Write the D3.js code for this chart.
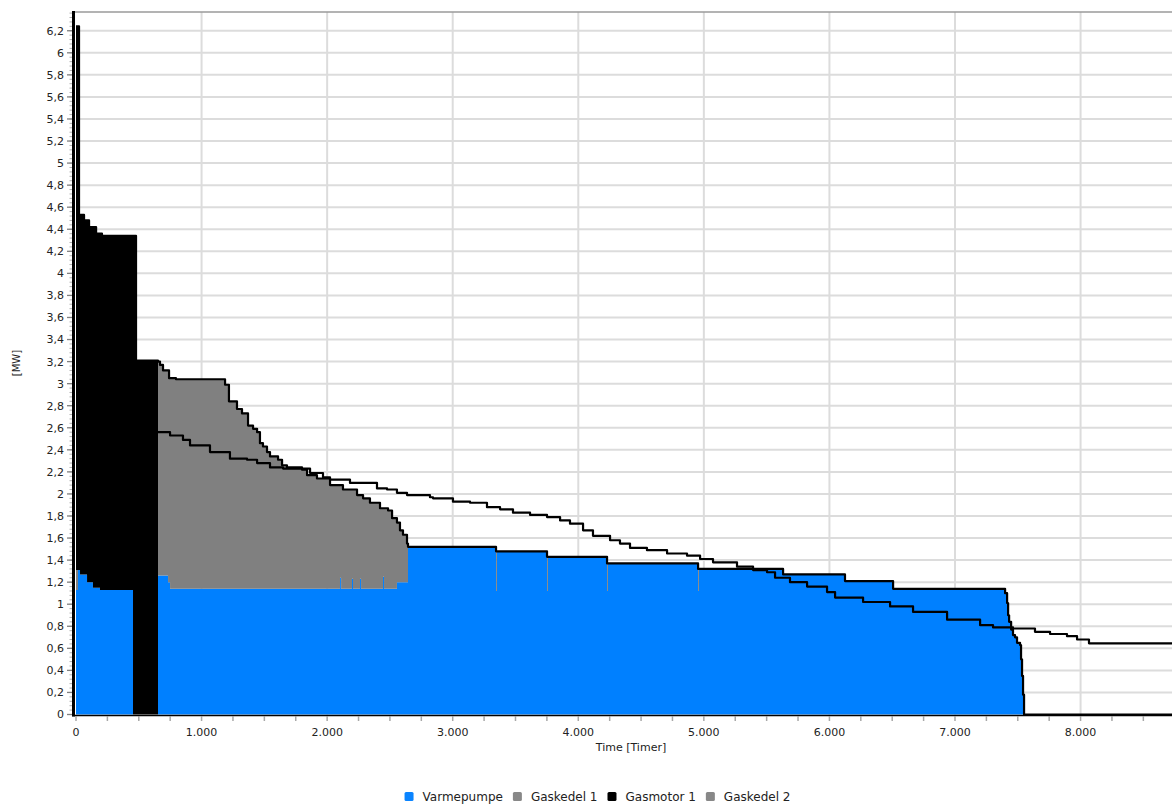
<!DOCTYPE html>
<html>
<head>
<meta charset="utf-8">
<script src="https://cdn.jsdelivr.net/npm/d3@7"></script>
<style>
  html, body { margin: 0; padding: 0; background: #fff; }
  svg { display: block; font-family: "DejaVu Sans", Verdana, sans-serif; }
</style>
</head>
<body>
<svg id="chart" width="1172" height="804"></svg>
<script>
// Sorted hours of the year (step breakpoints) and production per unit [MW]
const timer = [
  0, 16, 24, 32, 64, 88, 104, 135, 160, 191, 207, 454, 478,
  653, 669, 693, 733, 741, 749, 796, 1187, 1218, 1282, 1322, 1370, 1410, 1442,
  1465, 1489, 1521, 1545, 1609, 1641, 1680, 1800, 1840, 1919, 2023, 2103, 2111,
  2126, 2198, 2206, 2238, 2262, 2270, 2286, 2341, 2421, 2445, 2453, 2485, 2517,
  2556, 2580, 2604, 2636, 2644, 3345, 3352, 3751, 3758, 4229, 4236, 4954, 4961,
  5631, 6124, 6507, 7383, 7399, 7415, 7423, 7431, 7447, 7462, 7478, 7494, 7518,
  7526, 7534, 7542, 7550, 8760
];
const varmepumpe = [
  1.13, 1.31, 1.31, 1.27, 1.27, 1.20, 1.20, 1.15, 1.15, 1.13, 1.13, 0, 0,
  1.26, 1.26, 1.26, 1.20, 1.20, 1.14, 1.14, 1.14, 1.14, 1.14, 1.14, 1.14, 1.14, 1.14,
  1.14, 1.14, 1.14, 1.14, 1.14, 1.14, 1.14, 1.14, 1.14, 1.14, 1.14, 1.24, 1.14,
  1.14, 1.23, 1.14, 1.14, 1.23, 1.14, 1.14, 1.14, 1.14, 1.25, 1.14, 1.14, 1.14,
  1.20, 1.20, 1.20, 1.20, 1.52, 1.12, 1.48, 1.12, 1.43, 1.12, 1.37, 1.12, 1.32,
  1.27, 1.21, 1.14, 1.14, 1.10, 1.01, 0.90, 0.84, 0.77, 0.72, 0.70, 0.65, 0.63,
  0.50, 0.35, 0.18, 0, 0
];
const gaskedel1 = [
  0.18, 0, 0, 0, 0, 0, 0, 0, 0, 0, 0, 0, 0,
  1.94, 1.91, 1.86, 1.92, 1.85, 1.91, 1.90, 1.85, 1.70, 1.63, 1.59, 1.48, 1.45, 1.42,
  1.32, 1.29, 1.24, 1.20, 1.17, 1.12, 1.10, 1.08, 1.03, 1.00, 0.94, 0.84, 0.94,
  0.90, 0.81, 0.90, 0.85, 0.76, 0.85, 0.82, 0.78, 0.73, 0.62, 0.73, 0.71, 0.64,
  0.54, 0.47, 0.43, 0.35, 0, 0.36, 0, 0.31, 0, 0.25, 0, 0.20, 0,
  0, 0, 0, 0, 0, 0, 0, 0, 0, 0, 0, 0, 0,
  0, 0, 0, 0, 0
];
const gasmotor1 = [
  4.93, 4.93, 3.22, 3.26, 3.21, 3.28, 3.22, 3.27, 3.21, 3.23, 3.21, 4.34, 3.21,
  0, 0, 0, 0, 0, 0, 0, 0, 0, 0, 0, 0, 0, 0,
  0, 0, 0, 0, 0, 0, 0, 0, 0, 0, 0, 0, 0,
  0, 0, 0, 0, 0, 0, 0, 0, 0, 0, 0, 0, 0,
  0, 0, 0, 0, 0, 0, 0, 0, 0, 0, 0, 0, 0,
  0, 0, 0, 0, 0, 0, 0, 0, 0, 0, 0, 0, 0,
  0, 0, 0, 0, 0
];
const gaskedel2 = timer.map(() => 0);

// Second duration curve drawn as a plain line
const kurveTimer = [
  653, 749, 852, 908, 1067, 1226, 1362, 1442, 1545, 1649, 1864, 1967, 2023, 2182,
  2397, 2477, 2556, 2636, 2819, 2843, 3002, 3138, 3273, 3377, 3480, 3616, 3751,
  3855, 3934, 4038, 4117, 4253, 4332, 4412, 4547, 4707, 4866, 4970, 5073, 5264,
  5392, 5503, 5567, 5686, 5822, 5981, 6045, 6268, 6483, 6666, 6937, 7200, 7303,
  7462, 7637, 7757, 7892, 7972, 8067, 8760
];
const kurveMW = [
  2.56, 2.53, 2.49, 2.44, 2.38, 2.32, 2.31, 2.28, 2.24, 2.23, 2.19, 2.15, 2.13, 2.10,
  2.05, 2.04, 2.01, 1.99, 1.97, 1.96, 1.93, 1.92, 1.88, 1.86, 1.83, 1.81, 1.79,
  1.76, 1.73, 1.67, 1.62, 1.58, 1.55, 1.51, 1.49, 1.46, 1.44, 1.41, 1.38, 1.34,
  1.31, 1.29, 1.24, 1.20, 1.16, 1.11, 1.06, 1.02, 0.98, 0.93, 0.86, 0.81, 0.79,
  0.78, 0.75, 0.73, 0.71, 0.68, 0.645, 0.645
];

const serier = ["Varmepumpe", "Gaskedel 1", "Gasmotor 1", "Gaskedel 2"];
const farver = ["#0080ff", "#808080", "#000000", "#808080"];
const legendFarver = ["#0a84ff", "#888888", "#000000", "#888888"];
const xTicks = [0, 1000, 2000, 3000, 4000, 5000, 6000, 7000, 8000];

// ---------------------------------------------------------------------------
const dk = d3.formatLocale({ decimal: ",", thousands: ".", grouping: [3], currency: ["", " kr"] });
const fmtX = dk.format(",d");
const fmtY = v => dk.format("~g")(+v.toFixed(1));

const svg = d3.select("#chart");
const plotLeft = 76, plotTop = 12, plotBottom = 714.5;

const x = d3.scaleLinear().domain([0, 8760]).range([plotLeft, plotLeft + 1100]);
const y = d3.scaleLinear().domain([0, 6.37]).range([plotBottom, plotTop]);

const rows = timer.map((t, i) => ({
  timer: t,
  "Varmepumpe": varmepumpe[i],
  "Gaskedel 1": gaskedel1[i],
  "Gasmotor 1": gasmotor1[i],
  "Gaskedel 2": gaskedel2[i]
}));

// grid
const yGrid = d3.range(1, 32).map(i => +(i * 0.2).toFixed(1));
svg.append("g").selectAll("line").data(yGrid).join("line")
  .attr("x1", plotLeft).attr("x2", 1172)
  .attr("y1", d => y(d)).attr("y2", d => y(d))
  .attr("stroke", "#dcdcdc").attr("stroke-width", 2);
svg.append("g").selectAll("line").data(xTicks.filter(d => d > 0)).join("line")
  .attr("x1", d => x(d)).attr("x2", d => x(d))
  .attr("y1", plotTop).attr("y2", plotBottom)
  .attr("stroke", "#dcdcdc").attr("stroke-width", 2);

// stacked areas
const stacked = d3.stack().keys(serier)(rows);
const area = d3.area()
  .x(d => x(d.data.timer))
  .y0(d => y(d[0]))
  .y1(d => y(d[1]))
  .curve(d3.curveStepAfter);
svg.append("g").selectAll("path").data(stacked).join("path")
  .attr("d", area)
  .attr("fill", (d, i) => farver[i]);

// outline of the stacked total
const total = d3.line()
  .x(d => x(d.timer))
  .y(d => y(serier.reduce((s, k) => s + d[k], 0)))
  .curve(d3.curveStepAfter);
svg.append("path").datum(rows)
  .attr("d", total)
  .attr("fill", "none").attr("stroke", "#000").attr("stroke-width", 2.2)
  .attr("stroke-linejoin", "round");

// second curve
const kurve = d3.line()
  .x((d, i) => x(kurveTimer[i]))
  .y(d => y(d))
  .curve(d3.curveStepAfter);
svg.append("path").datum(kurveMW)
  .attr("d", kurve)
  .attr("fill", "none").attr("stroke", "#000").attr("stroke-width", 2.2)
  .attr("stroke-linejoin", "round");

// frame
svg.append("line").attr("x1", 73).attr("x2", 1172).attr("y1", plotTop).attr("y2", plotTop)
  .attr("stroke", "#9a9a9a").attr("stroke-width", 1.5);

// y axis
const yMinor = d3.range(0, 160).map(i => +(i * 0.04).toFixed(2)).filter(v => v <= 6.36);
svg.append("g").selectAll("line").data(yMinor).join("line")
  .attr("x1", 69.5).attr("x2", 72)
  .attr("y1", d => y(d)).attr("y2", d => y(d))
  .attr("stroke", "#b0b0b0").attr("stroke-width", 1);
const yMajor = d3.range(0, 32).map(i => +(i * 0.2).toFixed(1));
svg.append("g").selectAll("line").data(yMajor).join("line")
  .attr("x1", 67).attr("x2", 72)
  .attr("y1", d => y(d)).attr("y2", d => y(d))
  .attr("stroke", "#808080").attr("stroke-width", 1.3);
svg.append("g").selectAll("text").data(yMajor).join("text")
  .attr("x", 64).attr("y", d => y(d)).attr("dy", "0.36em")
  .attr("text-anchor", "end")
  .attr("font-size", 11).attr("fill", "#222")
  .text(fmtY);
svg.append("line").attr("x1", 73.5).attr("x2", 73.5).attr("y1", plotTop - 1).attr("y2", 716.5)
  .attr("stroke", "#000").attr("stroke-width", 3);

// x axis
const xMinor = d3.range(0, 8760, 250);
svg.append("g").selectAll("line").data(xMinor).join("line")
  .attr("x1", d => x(d)).attr("x2", d => x(d))
  .attr("y1", 716.5).attr("y2", 721)
  .attr("stroke", "#a8a8a8").attr("stroke-width", 1.5);
svg.append("line").attr("x1", 72).attr("x2", 1172).attr("y1", 715.5).attr("y2", 715.5)
  .attr("stroke", "#000").attr("stroke-width", 1.6);
svg.append("g").selectAll("text").data(xTicks).join("text")
  .attr("x", d => x(d)).attr("y", 736)
  .attr("text-anchor", "middle")
  .attr("font-size", 11).attr("fill", "#222")
  .text(fmtX);

// axis titles
svg.append("text").attr("x", 631).attr("y", 751)
  .attr("text-anchor", "middle").attr("font-size", 11).attr("fill", "#222")
  .text("Time [Timer]");
svg.append("text")
  .attr("transform", "translate(20,363) rotate(-90)")
  .attr("text-anchor", "middle").attr("font-size", 10).attr("fill", "#222")
  .text("[MW]");

// legend
const legend = svg.append("g");
const items = legend.selectAll("g").data(serier).join("g");
items.append("rect").attr("width", 9).attr("height", 9).attr("rx", 1.5)
  .attr("y", 792).attr("fill", (d, i) => legendFarver[i]);
items.append("text").attr("y", 801).attr("font-size", 12).attr("fill", "#222")
  .text(d => d);
let cx = 0;
const pos = [];
items.each(function () {
  const w = d3.select(this).select("text").node().getComputedTextLength();
  pos.push(cx);
  cx += 9 + 9 + w + 10;
});
const totalW = cx - 10;
const startX = 597.5 - totalW / 2;
items.each(function (d, i) {
  const g = d3.select(this);
  g.select("rect").attr("x", startX + pos[i]);
  g.select("text").attr("x", startX + pos[i] + 18);
});
</script>
</body>
</html>
